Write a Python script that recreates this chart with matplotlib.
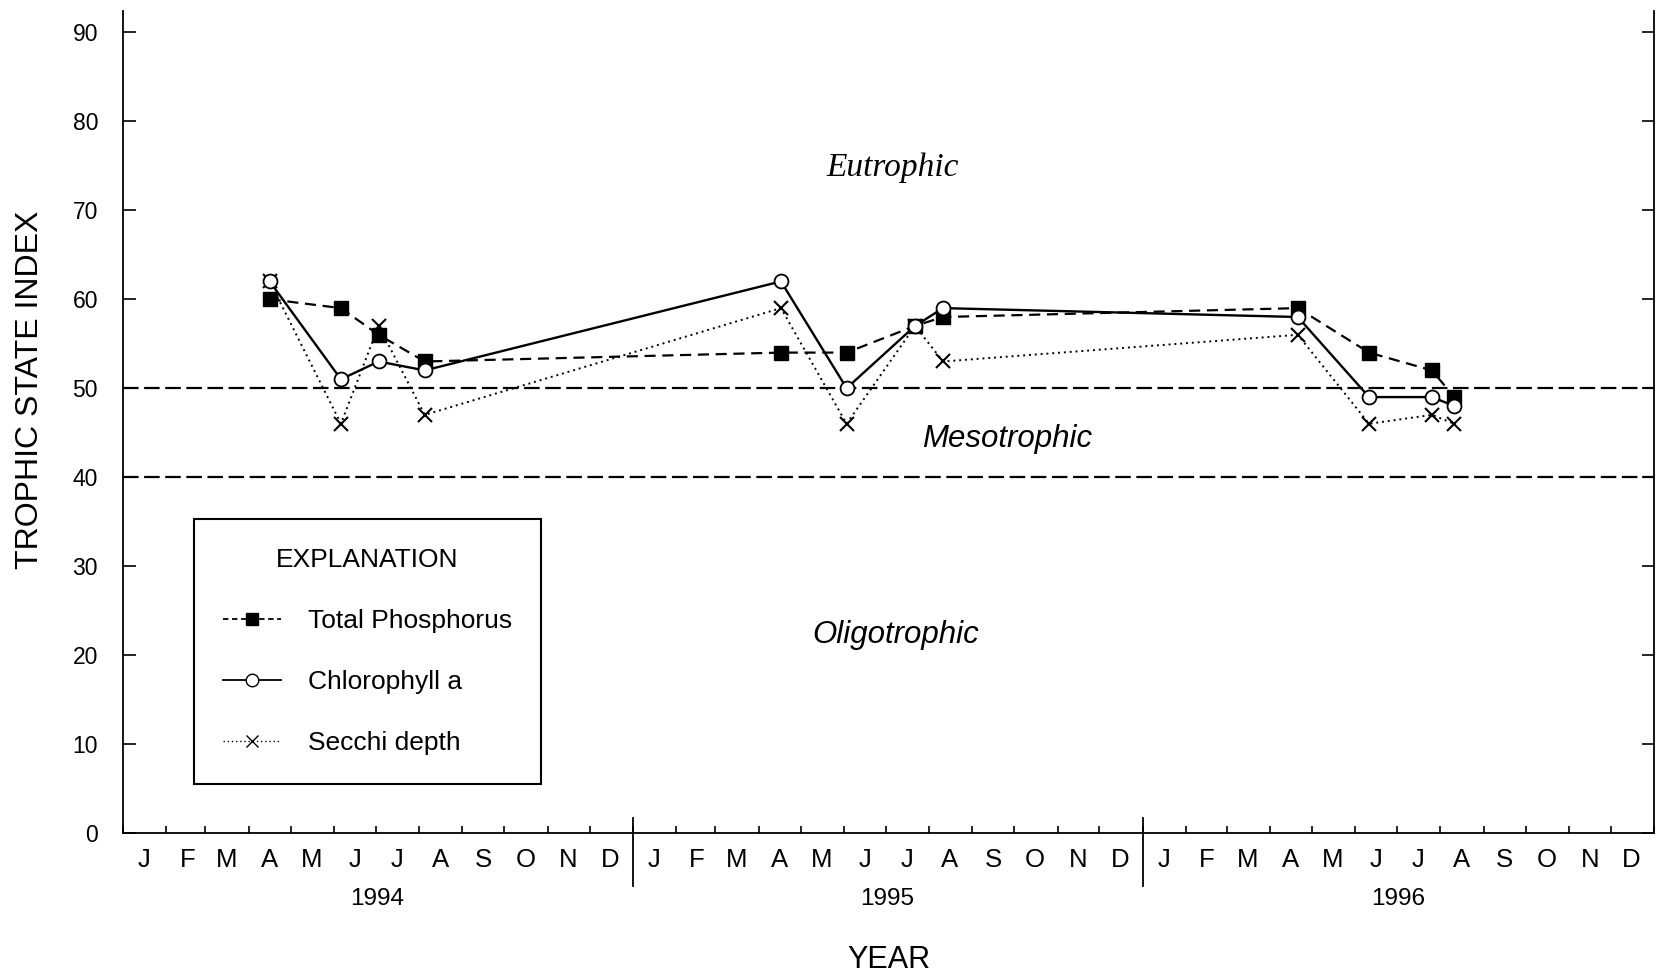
import pandas as pd
import matplotlib
matplotlib.use("Agg")
import matplotlib.pyplot as plt
import matplotlib.dates as mdates
from matplotlib.lines import Line2D
from matplotlib.ticker import FuncFormatter

plt.rcParams['font.family'] = ['Liberation Sans', 'DejaVu Sans']

# Sample dates and trophic state index values
sample_dates = ['1994-04-16', '1994-06-06', '1994-07-03', '1994-08-05',
                '1995-04-17', '1995-06-03', '1995-07-22', '1995-08-11',
                '1996-04-21', '1996-06-11', '1996-07-26', '1996-08-11']
total_phosphorus = [60, 59, 56, 53, 54, 54, 57, 58, 59, 54, 52, 49]
chlorophyll_a = [62, 51, 53, 52, 62, 50, 57, 59, 58, 49, 49, 48]
secchi_depth = [62, 46, 57, 47, 59, 46, 57, 53, 56, 46, 47, 46]

years = [1994, 1995, 1996]
zone_limits = [50, 40]
y_ticks = [0, 10, 20, 30, 40, 50, 60, 70, 80, 90]

dates = pd.to_datetime(sample_dates)

fig = plt.figure(figsize=(16.6, 9.8), dpi=100)
ax = fig.add_axes([0.0741, 0.15, 0.9223, 0.8388])

# Trophic zone boundaries
for lim in zone_limits:
    ax.axhline(lim, color='black', lw=1.6, dashes=(7, 2.5), zorder=1)

ax.plot(dates, total_phosphorus, color='black', lw=1.6, dashes=(5, 3),
        marker='s', ms=10, mfc='black', mec='black', zorder=3)
ax.plot(dates, chlorophyll_a, color='black', lw=1.7, ls='-',
        marker='o', ms=10, mfc='white', mec='black', mew=1.3, zorder=4)
ax.plot(dates, secchi_depth, color='black', lw=1.4, ls=(0, (1, 2)),
        marker='x', ms=10, mec='black', mew=1.5, zorder=2)

# Axes limits and ticks
ax.set_xlim(pd.Timestamp('1994-01-01'), pd.Timestamp('1997-01-01'))
ax.set_ylim(0, 92.4)
ax.set_yticks(y_ticks)
ax.tick_params(axis='y', direction='in', length=9, width=1.2, pad=18,
               labelsize=16.5, left=True, right=True, labelright=False)

ax.xaxis.set_major_locator(mdates.MonthLocator())
ax.xaxis.set_major_formatter(FuncFormatter(lambda x, pos: ''))
ax.xaxis.set_minor_locator(mdates.MonthLocator(bymonthday=16))
ax.xaxis.set_minor_formatter(
    FuncFormatter(lambda x, pos: mdates.num2date(x).strftime('%b')[0]))
ax.tick_params(axis='x', which='major', direction='in', length=5, width=1.2)
ax.tick_params(axis='x', which='minor', length=0, pad=11, labelsize=18.5)

for side in ['left', 'right', 'bottom']:
    ax.spines[side].set_linewidth(1.3)
ax.spines['top'].set_visible(False)

# Year separators and year labels
xtrans = ax.get_xaxis_transform()
for yr in years[1:]:
    x = pd.Timestamp(f'{yr}-01-01')
    ax.plot([x, x], [0.018, -0.064], color='black', lw=1.3,
            transform=xtrans, clip_on=False)
for yr in years:
    ax.text(pd.Timestamp(f'{yr}-07-02'), -0.08, str(yr), transform=xtrans,
            ha='center', va='center', fontsize=17.5)

ax.text(0.5, -0.155, 'YEAR', transform=ax.transAxes, ha='center',
        va='center', fontsize=22)
ax.text(-0.0607, 0.539, 'TROPHIC STATE INDEX', transform=ax.transAxes,
        rotation=90, ha='center', va='center', fontsize=23)

# Zone names
ax.text(pd.Timestamp('1995-07-06'), 74.8, 'Eutrophic', ha='center',
        va='center', fontsize=24, style='italic', family='Liberation Serif')
ax.text(pd.Timestamp('1995-09-26'), 44.3, 'Mesotrophic', ha='center',
        va='center', fontsize=22.5, style='italic')
ax.text(pd.Timestamp('1995-07-08'), 22.3, 'Oligotrophic', ha='center',
        va='center', fontsize=22.5, style='italic')

# Legend
handles = [
    Line2D([], [], color='black', lw=1.3, dashes=(3, 2), marker='s', ms=9,
           mfc='black', mec='black'),
    Line2D([], [], color='black', lw=1.3, ls='-', marker='o', ms=9,
           mfc='white', mec='black'),
    Line2D([], [], color='black', lw=1.0, ls=(0, (1, 2)), marker='x', ms=9,
           mec='black'),
]
labels = ['Total Phosphorus', 'Chlorophyll a', 'Secchi depth']
leg = ax.legend(handles, labels, title='EXPLANATION', loc='lower left',
                bbox_to_anchor=(0.0464, 0.0595, 0.2266, 0.3), mode='expand',
                borderaxespad=0, fontsize=19, title_fontsize=19,
                handlelength=2.2, handletextpad=1.0, labelspacing=1.4,
                borderpad=1.1, numpoints=1, fancybox=False, framealpha=1)
leg.get_frame().set_edgecolor('black')
leg.get_frame().set_linewidth(1.5)

fig.savefig('out.png', dpi=100)
